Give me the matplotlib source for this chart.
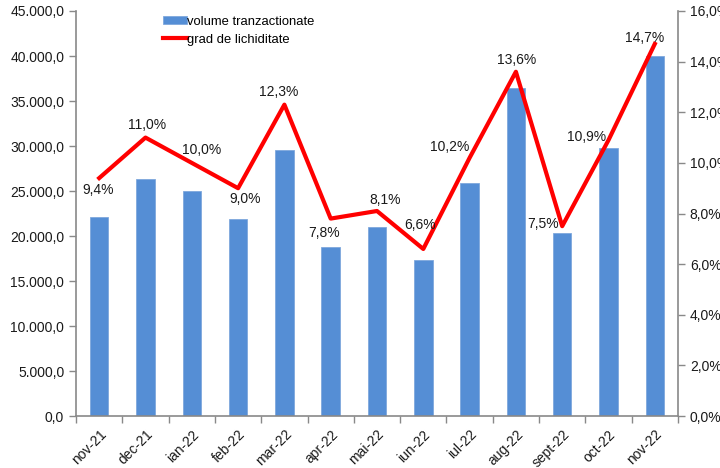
import matplotlib.pyplot as plt
import matplotlib.ticker as ticker
import numpy as np

plt.rcParams["font.family"] = ["Liberation Sans", "DejaVu Sans"]

months = ["nov-21", "dec-21", "ian-22", "feb-22", "mar-22", "apr-22", "mai-22",
          "iun-22", "iul-22", "aug-22", "sept-22", "oct-22", "nov-22"]
volume = [22100, 26300, 24950, 21850, 29550, 18750, 21050,
          17300, 25900, 36500, 20300, 29800, 40000]
liquidity = [9.4, 11.0, 10.0, 9.0, 12.3, 7.8, 8.1, 6.6, 10.2, 13.6, 7.5, 10.9, 14.7]

# label offsets in pixels (dx, dy) relative to each point of the line
label_offsets = [(-1, -12), (2, 13), (10, 13), (7, -11), (-6, 13), (-7, -14), (8, 11),
                 (-3, 24), (-20, 11), (1, 12), (-19, 2), (-22, 3), (-10, 6)]

AXIS_GRAY = "#898989"


def ro_number(v, decimals=1):
    s = f"{v:,.{decimals}f}"
    return s.replace(",", "X").replace(".", ",").replace("X", ".")


fig = plt.figure(figsize=(7.2, 4.68), dpi=100)
ax = fig.add_axes([0.1056, 0.111, 0.836, 0.8655])
ax2 = ax.twinx()

x = np.arange(len(months))
bars = ax.bar(x, volume, width=0.4, color="#558ED5", edgecolor="#7FA8DD",
              linewidth=0.6, label="volume tranzactionate", zorder=2)
line, = ax2.plot(x, liquidity, color="#FF0000", linewidth=3,
                 label="grad de lichiditate", zorder=3)

ax.set_xlim(-0.5, len(months) - 0.5)
ax.set_ylim(0, 45000)
ax2.set_ylim(0, 16)

ax.yaxis.set_major_locator(ticker.MultipleLocator(5000))
ax.yaxis.set_major_formatter(ticker.FuncFormatter(lambda v, p: ro_number(v)))
ax2.yaxis.set_major_locator(ticker.MultipleLocator(2))
ax2.yaxis.set_major_formatter(ticker.FuncFormatter(lambda v, p: ro_number(v) + "%"))

ax.set_xticks(x)
ax.set_xticklabels(months, rotation=45, ha="right", rotation_mode="anchor")
ax.set_xticks(np.arange(-0.5, len(months), 1), minor=True)
ax.tick_params(axis="x", which="major", length=0, pad=8)
ax.tick_params(axis="x", which="minor", length=5, color=AXIS_GRAY, width=1)
ax.tick_params(axis="y", length=5, color=AXIS_GRAY, width=1, labelsize=10,
               labelcolor="#1a1a1a")
ax.tick_params(axis="x", labelsize=10, labelcolor="#1a1a1a")
ax2.tick_params(axis="y", length=5, color=AXIS_GRAY, width=1, labelsize=10,
                labelcolor="#1a1a1a")

for a in (ax, ax2):
    a.spines["top"].set_visible(False)
    for side in ("left", "right", "bottom"):
        a.spines[side].set_color(AXIS_GRAY)
        a.spines[side].set_linewidth(1.2)
ax.spines["right"].set_visible(False)
ax2.spines["left"].set_visible(False)
ax2.spines["bottom"].set_visible(False)

for xi, yi, (dx, dy) in zip(x, liquidity, label_offsets):
    ax2.annotate(ro_number(yi) + "%", (xi, yi), xytext=(dx, dy),
                 textcoords="offset pixels", ha="center", va="center",
                 fontsize=10, color="#1a1a1a", zorder=4)

leg = ax.legend([bars, line], ["volume tranzactionate", "grad de lichiditate"],
                loc="upper left", bbox_to_anchor=(0.125, 1.017), frameon=False,
                fontsize=9.4, handlelength=1.8, handleheight=0.55,
                handletextpad=0.05, labelspacing=0.45)

fig.savefig("out.png", dpi=100)
